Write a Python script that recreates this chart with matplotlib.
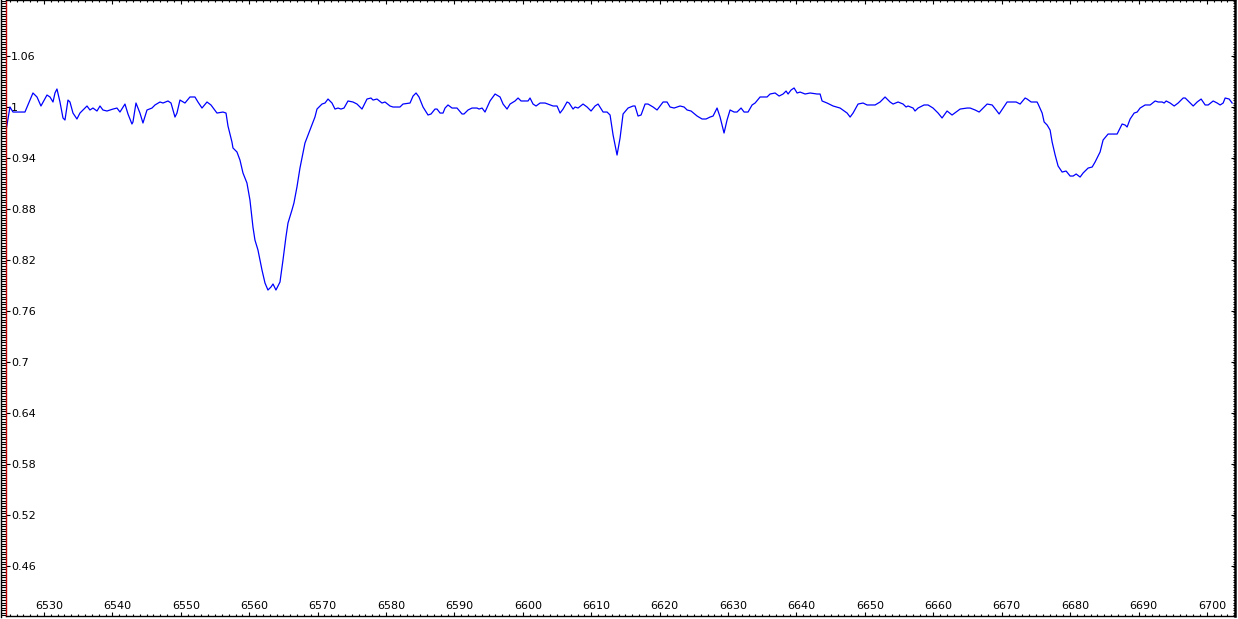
import matplotlib

matplotlib.use("Agg")
import matplotlib.pyplot as plt  # noqa: E402
from matplotlib.lines import Line2D  # noqa: E402
from matplotlib.ticker import FuncFormatter, MultipleLocator  # noqa: E402
from matplotlib.transforms import ScaledTranslation  # noqa: E402

# spectrum (wavelength in Angstrom, normalised flux)
wavelength = [
    6524.30, 6525.03, 6525.47, 6527.22, 6528.39, 6528.98, 6529.56, 6530.44,
    6530.88, 6531.32, 6531.61, 6531.90, 6532.34, 6532.78, 6533.07, 6533.51,
    6533.80, 6534.24, 6534.82, 6535.26, 6535.99, 6536.29, 6536.72, 6537.16,
    6537.75, 6538.19, 6538.62, 6539.21, 6540.09, 6540.67, 6541.11, 6541.84,
    6542.28, 6542.86, 6543.01, 6543.45, 6544.03, 6544.47, 6545.06, 6545.79,
    6546.23, 6546.96, 6547.40, 6548.13, 6548.57, 6549.15, 6549.44, 6549.88,
    6550.61, 6551.34, 6552.07, 6552.51, 6553.10, 6553.83, 6554.41, 6555.29,
    6556.17, 6556.61, 6556.90, 6557.48, 6557.63, 6558.21, 6558.65, 6559.09,
    6559.67, 6560.11, 6560.55, 6560.84, 6561.28, 6561.87, 6562.31, 6562.74,
    6563.18, 6563.48, 6563.91, 6564.50, 6564.94, 6565.37, 6565.67, 6566.25,
    6566.54, 6566.98, 6567.42, 6568.15, 6568.88, 6569.61, 6569.91, 6570.64,
    6571.08, 6571.52, 6572.10, 6572.54, 6572.98, 6573.42, 6573.86, 6574.44,
    6575.17, 6575.76, 6576.49, 6577.22, 6577.80, 6578.10, 6578.68, 6579.41,
    6579.85, 6580.58, 6581.02, 6582.04, 6582.48, 6583.51, 6583.95, 6584.39,
    6584.82, 6585.41, 6586.14, 6586.58, 6587.16, 6587.46, 6587.90, 6588.33,
    6588.63, 6589.06, 6589.65, 6590.38, 6591.11, 6591.40, 6591.99, 6592.57,
    6593.30, 6593.60, 6594.04, 6594.47, 6595.20, 6595.94, 6596.67, 6597.11,
    6597.69, 6598.13, 6598.86, 6599.30, 6599.74, 6600.76, 6601.05, 6601.49,
    6601.93, 6602.52, 6603.25, 6604.42, 6605.00, 6605.44, 6605.88, 6606.46,
    6606.76, 6607.34, 6607.63, 6608.07, 6608.80, 6609.39, 6609.97, 6610.56,
    6611.00, 6611.73, 6612.31, 6612.75, 6613.19, 6613.77, 6614.21, 6614.65,
    6615.38, 6616.11, 6616.40, 6616.84, 6617.28, 6617.87, 6618.30, 6619.04,
    6619.62, 6620.50, 6621.08, 6621.52, 6622.11, 6622.98, 6623.57, 6624.01,
    6624.59, 6625.47, 6626.20, 6626.78, 6627.37, 6627.81, 6628.39, 6628.83,
    6629.41, 6629.85, 6630.29, 6630.88, 6631.31, 6631.90, 6632.34, 6632.92,
    6633.51, 6633.95, 6634.68, 6635.70, 6636.14, 6636.87, 6637.46, 6638.04,
    6638.48, 6638.77, 6639.21, 6639.65, 6640.09, 6640.53, 6641.26, 6641.99,
    6643.01, 6643.45, 6643.74, 6644.47, 6645.35, 6646.37, 6647.40, 6647.84,
    6648.27, 6649.00, 6649.73, 6650.32, 6651.49, 6652.22, 6652.95, 6653.68,
    6654.12, 6654.85, 6655.58, 6656.02, 6656.31, 6657.04, 6657.33, 6657.77,
    6658.65, 6659.23, 6659.96, 6660.70, 6661.28, 6662.01, 6662.74, 6663.92,
    6664.94, 6665.38, 6666.11, 6666.70, 6667.28, 6667.87, 6668.60, 6669.18,
    6669.62, 6670.21, 6670.79, 6671.52, 6672.11, 6672.69, 6673.42, 6673.71,
    6674.30, 6675.17, 6675.32, 6675.91, 6676.20, 6676.64, 6677.07, 6677.37,
    6677.81, 6678.24, 6678.83, 6679.41, 6680.00, 6680.44, 6680.88, 6681.46,
    6681.90, 6682.63, 6683.22, 6683.65, 6684.38, 6684.82, 6685.55, 6686.87,
    6687.16, 6687.60, 6688.04, 6688.33, 6688.77, 6689.36, 6689.80, 6690.23,
    6690.96, 6691.70, 6692.43, 6692.87, 6693.45, 6693.74, 6694.04, 6694.62,
    6695.21, 6695.79, 6696.52, 6696.82, 6697.99, 6698.57, 6699.15, 6699.74,
    6700.18, 6700.91, 6701.49, 6701.93, 6702.37, 6702.66, 6703.24, 6703.68,
]
flux = [
    0.9647, 1.0000, 0.9941, 0.9941, 1.0165, 1.0118, 1.0012, 1.0141,
    1.0118, 1.0059, 1.0165, 1.0212, 1.0059, 0.9871, 0.9847, 1.0082,
    1.0059, 0.9929, 0.9859, 0.9929, 0.9988, 1.0012, 0.9965, 0.9988,
    0.9953, 1.0012, 0.9965, 0.9953, 0.9976, 0.9988, 0.9941, 1.0035,
    0.9918, 0.9800, 0.9824, 1.0047, 0.9929, 0.9812, 0.9965, 0.9988,
    1.0024, 1.0059, 1.0047, 1.0071, 1.0047, 0.9882, 0.9929, 1.0082,
    1.0047, 1.0118, 1.0118, 1.0059, 0.9988, 1.0059, 1.0024, 0.9929,
    0.9941, 0.9929, 0.9776, 0.9588, 0.9518, 0.9471, 0.9376, 0.9224,
    0.9106, 0.8906, 0.8588, 0.8435, 0.8318, 0.8082, 0.7929, 0.7847,
    0.7882, 0.7918, 0.7847, 0.7941, 0.8200, 0.8471, 0.8635, 0.8788,
    0.8871, 0.9059, 0.9282, 0.9576, 0.9729, 0.9882, 0.9976, 1.0035,
    1.0047, 1.0094, 1.0047, 0.9976, 0.9988, 0.9976, 0.9988, 1.0071,
    1.0059, 1.0035, 0.9976, 1.0094, 1.0106, 1.0082, 1.0094, 1.0047,
    1.0059, 1.0012, 1.0000, 1.0000, 1.0035, 1.0047, 1.0129, 1.0165,
    1.0118, 1.0000, 0.9906, 0.9918, 0.9976, 0.9976, 0.9929, 0.9929,
    0.9988, 1.0024, 0.9988, 0.9988, 0.9918, 0.9918, 0.9965, 0.9988,
    0.9988, 0.9976, 0.9988, 0.9941, 1.0071, 1.0153, 1.0118, 1.0035,
    0.9976, 1.0035, 1.0071, 1.0106, 1.0071, 1.0071, 1.0106, 1.0035,
    1.0012, 1.0047, 1.0047, 1.0012, 1.0012, 0.9929, 0.9976, 1.0059,
    1.0047, 0.9976, 1.0000, 0.9988, 1.0035, 1.0000, 0.9953, 1.0012,
    1.0035, 0.9941, 0.9941, 0.9906, 0.9671, 0.9435, 0.9635, 0.9918,
    0.9988, 1.0012, 1.0012, 0.9894, 0.9906, 1.0035, 1.0035, 1.0000,
    0.9965, 1.0059, 1.0059, 1.0000, 0.9988, 1.0012, 1.0000, 0.9965,
    0.9953, 0.9894, 0.9859, 0.9859, 0.9882, 0.9894, 0.9988, 0.9882,
    0.9694, 0.9847, 0.9965, 0.9941, 0.9941, 0.9988, 0.9941, 0.9941,
    1.0024, 1.0047, 1.0118, 1.0118, 1.0153, 1.0165, 1.0129, 1.0153,
    1.0188, 1.0153, 1.0200, 1.0224, 1.0165, 1.0176, 1.0153, 1.0165,
    1.0153, 1.0153, 1.0071, 1.0047, 1.0012, 0.9988, 0.9929, 0.9882,
    0.9929, 1.0035, 1.0047, 1.0024, 1.0024, 1.0059, 1.0118, 1.0059,
    1.0035, 1.0059, 1.0035, 1.0000, 1.0012, 0.9988, 0.9953, 0.9988,
    1.0024, 1.0024, 0.9988, 0.9929, 0.9871, 0.9953, 0.9906, 0.9976,
    0.9988, 0.9988, 0.9965, 0.9941, 0.9988, 1.0035, 1.0024, 0.9965,
    0.9918, 0.9988, 1.0059, 1.0059, 1.0059, 1.0035, 1.0106, 1.0094,
    1.0059, 1.0059, 1.0035, 0.9929, 0.9824, 0.9788, 0.9729, 0.9588,
    0.9435, 0.9306, 0.9235, 0.9247, 0.9188, 0.9188, 0.9212, 0.9176,
    0.9224, 0.9282, 0.9294, 0.9353, 0.9471, 0.9612, 0.9682, 0.9682,
    0.9729, 0.9800, 0.9788, 0.9765, 0.9859, 0.9929, 0.9941, 0.9988,
    1.0024, 1.0024, 1.0071, 1.0059, 1.0059, 1.0047, 1.0071, 1.0047,
    1.0012, 1.0047, 1.0106, 1.0106, 1.0012, 1.0059, 1.0094, 1.0024,
    1.0024, 1.0071, 1.0047, 1.0024, 1.0047, 1.0106, 1.0094, 1.0047,
]

x_ticks = [6530, 6540, 6550, 6560, 6570, 6580, 6590, 6600, 6610,
           6620, 6630, 6640, 6650, 6660, 6670, 6680, 6690, 6700]
y_ticks = [0.46, 0.52, 0.58, 0.64, 0.70, 0.76, 0.82, 0.88, 0.94, 1.00, 1.06]

W, H = 1238, 619
fig = plt.figure(figsize=(W / 100, H / 100), dpi=100)
ax = fig.add_axes([6 / W, 3 / H, (1235 - 6) / W, (H - 3) / H])

ax.plot(wavelength, flux, color="#0000ff", lw=0.9)
ax.set_xlim(6524.45, 6704.10)
ax.set_ylim(0.4012, 1.1259)

ax.set_xticks(x_ticks)
ax.xaxis.set_minor_locator(MultipleLocator(1))
ax.set_yticks(y_ticks)
ax.yaxis.set_minor_locator(MultipleLocator(0.003))
ax.xaxis.set_major_formatter(FuncFormatter(lambda v, p: f"{v:.0f}"))
ax.yaxis.set_major_formatter(FuncFormatter(lambda v, p: f"{v:g}"))

ax.tick_params(axis="x", which="both", direction="in", top=True, bottom=True,
               labelsize=8, pad=-10.5, width=0.8)
ax.tick_params(axis="x", which="major", length=3)
ax.tick_params(axis="x", which="minor", length=1.6)
ax.tick_params(axis="y", which="major", direction="in", left=True, right=False,
               length=3, labelsize=8, pad=-3.5, width=0.8)
ax.tick_params(axis="y", which="minor", direction="out", left=True, right=False,
               length=3.4, width=0.8)

for t in ax.yaxis.get_major_ticks():
    t.label1.set_horizontalalignment("left")
shift = ScaledTranslation(5 / 100, 0, fig.dpi_scale_trans)
for t in ax.xaxis.get_major_ticks():
    t.label1.set_transform(t.label1.get_transform() + shift)

# right-hand ticks point inward
ax2 = ax.twinx()
ax2.set_ylim(ax.get_ylim())
ax2.set_yticks(y_ticks)
ax2.yaxis.set_minor_locator(MultipleLocator(0.003))
ax2.tick_params(axis="y", which="both", direction="in", labelright=False, width=0.8)
ax2.tick_params(axis="y", which="major", length=3)
ax2.tick_params(axis="y", which="minor", length=1.5)
for side in ("left", "top", "bottom"):
    ax2.spines[side].set_visible(False)
ax2.spines["right"].set_linewidth(1.8)

ax.spines["left"].set_color("#c00000")
ax.spines["left"].set_linewidth(1.0)
ax.spines["right"].set_visible(False)
for side in ("top", "bottom"):
    ax.spines[side].set_linewidth(1.0)

# thin frame line at the very left edge
fig.add_artist(Line2D([0.5 / W, 0.5 / W], [2 / H, 1], color="black", lw=1.0))

fig.savefig("out.png", dpi=100)
